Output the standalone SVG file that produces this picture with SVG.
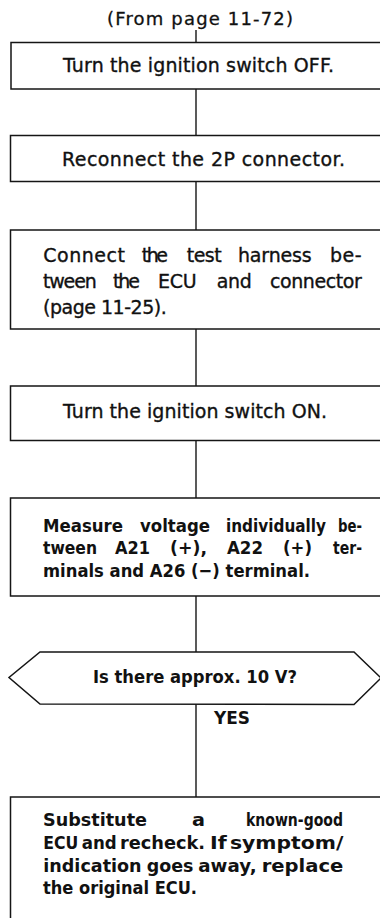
<svg xmlns="http://www.w3.org/2000/svg" width="380" height="918" viewBox="0 0 380 918">
<style>
.bg{fill:#ffffff}
.box{fill:#ffffff;stroke:#151515;stroke-width:1.5}
.con{stroke:#151515;stroke-width:1.4;fill:none}
.t{font-family:"DejaVu Sans","Liberation Sans",sans-serif;font-size:19px;fill:#111;stroke:#111;stroke-width:0.35}
.b{font-family:"DejaVu Sans","Liberation Sans",sans-serif;font-size:18px;font-weight:bold;fill:#111}
.s{font-family:"DejaVu Sans","Liberation Sans",sans-serif;font-size:18px;fill:#111;stroke:#111;stroke-width:0.3}
</style>
<rect class="bg" x="0" y="0" width="380" height="918"/>
<g id="connectors">
<line class="con" x1="196" y1="30" x2="196" y2="42.5"/>
<line class="con" x1="196" y1="89" x2="196" y2="135.5"/>
<line class="con" x1="196" y1="181.5" x2="196" y2="230"/>
<line class="con" x1="196" y1="329" x2="196" y2="386"/>
<line class="con" x1="196" y1="440.5" x2="196" y2="498"/>
<line class="con" x1="196" y1="596" x2="196" y2="652"/>
<line class="con" x1="196" y1="704" x2="196" y2="797"/>
<text class="b" x="214" y="724" textLength="36" lengthAdjust="spacingAndGlyphs">YES</text>
</g>
<g id="start">
<text class="s" x="107" y="25" textLength="186">(From page 11-72)</text>
</g>
<g id="step1">
<rect class="box" x="11" y="42.5" width="380" height="46.5"/>
<text class="t" x="63" y="72" textLength="271">Turn the ignition switch OFF.</text>
</g>
<g id="step2">
<rect class="box" x="10.5" y="135.5" width="380" height="46"/>
<text class="t" x="62" y="166" textLength="283">Reconnect the 2P connector.</text>
</g>
<g id="step3">
<rect class="box" x="10.5" y="230" width="380" height="99"/>
<text class="t" y="261.5"><tspan x="43.3" textLength="81.7">Connect</tspan> <tspan x="141.7" textLength="26.3">the</tspan> <tspan x="186.7" textLength="35">test</tspan> <tspan x="238" textLength="73.7">harness</tspan> <tspan x="330" textLength="31.7">be-</tspan></text>
<text class="t" y="288"><tspan x="43" textLength="53.7">tween</tspan> <tspan x="113" textLength="27">the</tspan> <tspan x="158" textLength="38.7">ECU</tspan> <tspan x="216.7" textLength="35">and</tspan> <tspan x="270" textLength="91.7">connector</tspan></text>
<text class="t" x="43" y="313.5" textLength="123.7">(page 11-25).</text>
</g>
<g id="step4">
<rect class="box" x="10.5" y="386" width="380" height="54.5"/>
<text class="t" x="63" y="417.5" textLength="264">Turn the ignition switch ON.</text>
</g>
<g id="step5">
<rect class="box" x="10.5" y="498" width="380" height="98"/>
<text class="b" y="531.5"><tspan x="43" textLength="80" lengthAdjust="spacingAndGlyphs">Measure</tspan> <tspan x="140" textLength="70" lengthAdjust="spacingAndGlyphs">voltage</tspan> <tspan x="226" font-size="16.8" textLength="100" lengthAdjust="spacingAndGlyphs">individually</tspan> <tspan x="338" textLength="24" lengthAdjust="spacingAndGlyphs">be-</tspan></text>
<text class="b" y="554"><tspan x="43" textLength="54" lengthAdjust="spacingAndGlyphs">tween</tspan> <tspan x="115" textLength="35" lengthAdjust="spacingAndGlyphs">A21</tspan> <tspan x="170" textLength="37" lengthAdjust="spacingAndGlyphs">(+),</tspan> <tspan x="227" textLength="36" lengthAdjust="spacingAndGlyphs">A22</tspan> <tspan x="283" textLength="29" lengthAdjust="spacingAndGlyphs">(+)</tspan> <tspan x="333" textLength="29" lengthAdjust="spacingAndGlyphs">ter-</tspan></text>
<text class="b" x="43" y="576.5" textLength="267" lengthAdjust="spacingAndGlyphs">minals and A26 (−) terminal.</text>
</g>
<g id="decision">
<polygon class="box" points="40,652 354,652 381,678 354,704.5 40,704 9,677.5"/>
<text class="b" x="93" y="682.5" textLength="204" lengthAdjust="spacingAndGlyphs">Is there approx. 10 V?</text>
</g>
<g id="step6">
<rect class="box" x="10.5" y="797" width="380" height="200"/>
<text class="b" y="826"><tspan x="43" textLength="104" lengthAdjust="spacingAndGlyphs">Substitute</tspan> <tspan x="192" textLength="13" lengthAdjust="spacingAndGlyphs">a</tspan> <tspan x="246" textLength="97" lengthAdjust="spacingAndGlyphs">known-good</tspan></text>
<text class="b" y="849"><tspan x="43.3" textLength="35" lengthAdjust="spacingAndGlyphs">ECU</tspan> <tspan x="81.7" textLength="35" lengthAdjust="spacingAndGlyphs">and</tspan> <tspan x="120" textLength="85" lengthAdjust="spacingAndGlyphs">recheck.</tspan> <tspan x="210" textLength="16.7" lengthAdjust="spacingAndGlyphs">If</tspan> <tspan x="230" textLength="113.3" lengthAdjust="spacingAndGlyphs">symptom/</tspan></text>
<text class="b" y="872"><tspan x="43.3" textLength="98.3" lengthAdjust="spacingAndGlyphs">indication</tspan> <tspan x="146.7" textLength="46.7" lengthAdjust="spacingAndGlyphs">goes</tspan> <tspan x="198.3" textLength="58.3" lengthAdjust="spacingAndGlyphs">away,</tspan> <tspan x="261.7" textLength="81.7" lengthAdjust="spacingAndGlyphs">replace</tspan></text>
<text class="b" x="43" y="894" textLength="154" lengthAdjust="spacingAndGlyphs">the original ECU.</text>
</g>
</svg>
